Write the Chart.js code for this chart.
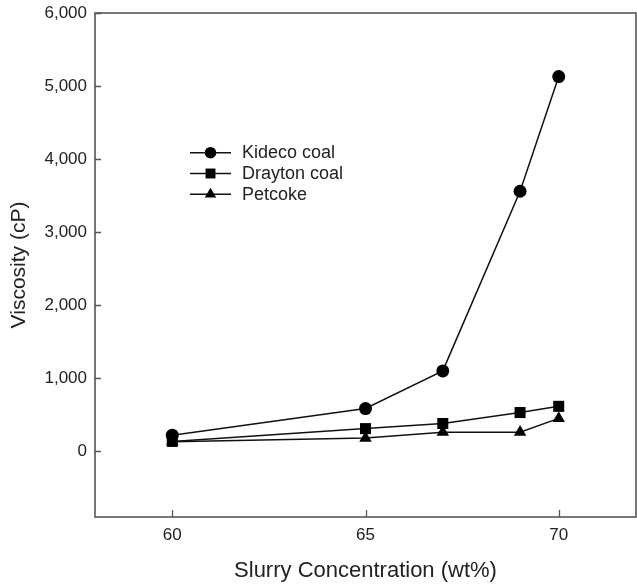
<!DOCTYPE html>
<html>
<head>
<meta charset="utf-8">
<script src="https://cdn.jsdelivr.net/npm/chart.js@4/dist/chart.umd.min.js"></script>
<style>
html,body{margin:0;padding:0;background:#fff;}
#wrap{width:637px;height:585px;position:relative;}
</style>
</head>
<body>
<div id="wrap"><canvas id="c" width="637" height="585"></canvas></div>
<script>
const concentration = [60, 65, 67, 69, 70];
const kideco = [220, 585, 1100, 3560, 5130];
const drayton = [135, 310, 380, 530, 615];
const petcoke = [130, 180, 260, 260, 450];
const seriesNames = ['Kideco coal', 'Drayton coal', 'Petcoke'];
const xTicks = [60, 65, 70];
const yTicks = [0, 1000, 2000, 3000, 4000, 5000, 6000];

const AXIS = '#555';
const TEXT = '#222';
const FONT = '"Liberation Sans", Arial, sans-serif';

function pts(ys){ return concentration.map((x,i)=>({x:x, y:ys[i]})); }

const styles = [
  {pointStyle:'circle', r:6.5, lr:5.8},
  {pointStyle:'rect', r:7.8, lr:7},
  {pointStyle:'triangle', r:7.2, lr:6.6}
];
const seriesData = [kideco, drayton, petcoke];

const datasets = seriesData.map((d,i)=>({
  label: seriesNames[i],
  data: pts(d),
  borderColor:'#111',
  backgroundColor:'#000',
  pointBackgroundColor:'#000',
  pointBorderColor:'#000',
  borderWidth:1.5,
  pointStyle: styles[i].pointStyle,
  pointRadius: styles[i].r,
  pointBorderWidth:0,
  tension:0
}));

function zeroPad(s){ s.paddingTop = 0; s.paddingBottom = 0; s.paddingLeft = 0; s.paddingRight = 0; }

const frameAndTicks = {
  id:'frameAndTicks',
  afterDatasetsDraw(chart){
    const {ctx, chartArea:a, scales:{x, y}} = chart;
    ctx.save();
    ctx.strokeStyle = AXIS;
    ctx.lineWidth = 1.6;
    ctx.strokeRect(a.left, a.top, a.right - a.left, a.bottom - a.top);
    ctx.lineWidth = 1.3;
    ctx.beginPath();
    x.ticks.forEach(t=>{
      const px = Math.round(x.getPixelForValue(t.value)) + 0.5;
      ctx.moveTo(px, a.bottom); ctx.lineTo(px, a.bottom - 7);
    });
    y.ticks.forEach(t=>{
      const py = Math.round(y.getPixelForValue(t.value)) + 0.5;
      ctx.moveTo(a.left, py); ctx.lineTo(a.left + 6, py);
    });
    ctx.stroke();
    ctx.restore();
  }
};

const innerLegend = {
  id:'innerLegend',
  afterDraw(chart){
    const {ctx} = chart;
    const rows = [152.7, 173.5, 194.3];
    ctx.save();
    chart.data.datasets.forEach((ds,i)=>{
      const yy = rows[i];
      ctx.strokeStyle = '#111';
      ctx.lineWidth = 1.5;
      ctx.beginPath();
      ctx.moveTo(190, yy); ctx.lineTo(231, yy);
      ctx.stroke();
      ctx.fillStyle = '#000';
      ctx.strokeStyle = '#000';
      Chart.helpers.drawPoint(ctx, {pointStyle: ds.pointStyle, radius: styles[i].lr, rotation:0, borderWidth:0}, 210.5, yy);
      ctx.fillStyle = TEXT;
      ctx.font = '18px ' + FONT;
      ctx.textBaseline = 'middle';
      ctx.textAlign = 'left';
      ctx.fillText(ds.label, 242, yy + 0.5);
    });
    ctx.restore();
  }
};

new Chart(document.getElementById('c'), {
  type:'line',
  data:{datasets},
  options:{
    responsive:false,
    animation:false,
    devicePixelRatio:1,
    layout:{autoPadding:false, padding:{top:13, right:1, left:0, bottom:0}},
    plugins:{legend:{display:false}, tooltip:{enabled:false}},
    scales:{
      x:{
        type:'linear', min:58, max:72,
        afterBuildTicks(s){ s.ticks = xTicks.map(v=>({value:v})); },
        afterFit(s){ s.height = 68; zeroPad(s); },
        grid:{display:true, drawOnChartArea:false, drawTicks:false},
        border:{display:false},
        ticks:{color:TEXT, font:{family:FONT, size:17}, padding:8, maxRotation:0},
        title:{display:true, text:'Slurry Concentration (wt%)', color:TEXT, font:{family:FONT, size:22}, padding:{top:0, bottom:1}}
      },
      y:{
        type:'linear', min:-900, max:6000,
        afterBuildTicks(s){ s.ticks = yTicks.map(v=>({value:v})); },
        afterFit(s){ s.width = 95; zeroPad(s); },
        grid:{display:true, drawOnChartArea:false, drawTicks:false},
        border:{display:false},
        ticks:{color:TEXT, font:{family:FONT, size:17}, padding:8,
          callback:(v)=>Number(v).toLocaleString('en-US')},
        title:{display:true, text:'Viscosity (cP)', color:TEXT, font:{family:FONT, size:21}, padding:{top:7, bottom:0}}
      }
    }
  },
  plugins:[frameAndTicks, innerLegend]
});
</script>
</body>
</html>
